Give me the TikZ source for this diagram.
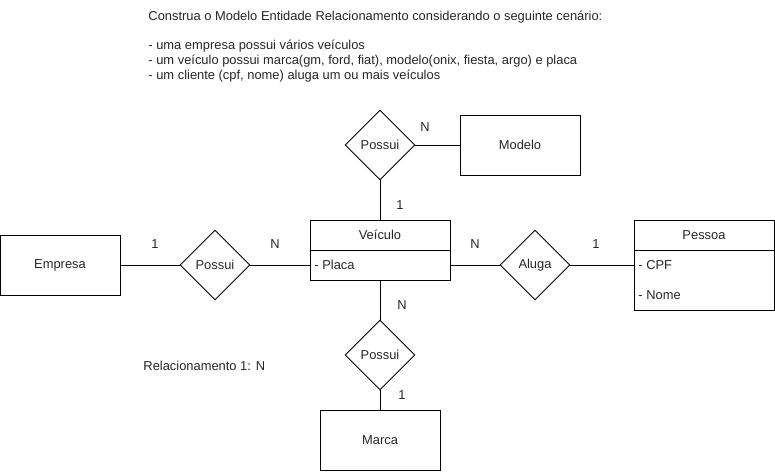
\documentclass[tikz,border=0pt]{standalone}
\usepackage{fontspec}
\setmainfont{Liberation Sans}
\usetikzlibrary{shapes.geometric}
\begin{document}
\begin{tikzpicture}[x=1pt,y=-1pt,line width=0.9pt,
  every node/.style={font=\fontsize{12.9}{15}\selectfont, text=black!85},
  ent/.style={draw=black, rectangle, minimum width=120pt, minimum height=60pt, inner sep=0pt},
  rel/.style={draw=black, diamond, minimum width=70pt, minimum height=70pt, inner sep=0pt, aspect=1},
  hdr/.style={draw=black, rectangle, minimum width=140pt, minimum height=30pt, inner sep=0pt},
  body/.style={draw=black, rectangle, minimum width=140pt, inner sep=0pt},
  lbl/.style={inner sep=0pt},
  txt/.style={inner sep=0pt, anchor=west}]
\useasboundingbox (0,0) rectangle (775,471);
% title
\node[txt] (t1) at (148,17) {Construa o Modelo Entidade Relacionamento considerando o seguinte cenário:};
\node[txt] (t2) at (148,46) {- uma empresa possui vários veículos};
\node[txt] (t3) at (148,61) {- um veículo possui marca(gm, ford, fiat), modelo(onix, fiesta, argo) e placa};
\node[txt] (t4) at (148,76) {- um cliente (cpf, nome) aluga um ou mais veículos};
% entities
\node[ent] (empresa) at (60,265) {Empresa};
\node[ent] (modelo) at (520,145) {Modelo};
\node[ent] (marca) at (380,440) {Marca};
% Veiculo
\node[hdr] (veic) at (380,235) {Veículo};
\node[body, minimum height=30pt] (placa) at (380,265) {};
\node[txt] (placatxt) at (314,265) {- Placa};
% Pessoa
\node[hdr] (pessoa) at (704,235) {Pessoa};
\node[body, minimum height=60pt] (pbody) at (704,280) {};
\node[txt] (cpf) at (638,265) {- CPF};
\node[txt] (nome) at (638,295) {- Nome};
% relationships
\node[rel] (r1) at (215,265) {Possui};
\node[rel] (r2) at (380,145) {Possui};
\node[rel] (r3) at (380,355) {Possui};
\node[rel] (r4) at (535,265) {Aluga};
% connectors
\draw (empresa.east) -- (r1.west);
\draw (r1.east) -- (placa.west);
\draw (r2.east) -- (modelo.west);
\draw (r2.south) -- (veic.north);
\draw (placa.south) -- (r3.north);
\draw (r3.south) -- (marca.north);
\draw (placa.east) -- (r4.west);
\draw (r4.east) -- (pbody.west |- r4.east);
% cardinalities
\node[lbl] (c1) at (155,244) {1};
\node[lbl] (c2) at (275,244) {N};
\node[lbl] (c3) at (425,127) {N};
\node[lbl] (c4) at (400,205) {1};
\node[lbl] (c5) at (475,244) {N};
\node[lbl] (c6) at (596,244) {1};
\node[lbl] (c7) at (402,305) {N};
\node[lbl] (c8) at (402,395) {1};
\node[txt] (rel1n) at (143,366) {Relacionamento 1: N};
\end{tikzpicture}
\end{document}
